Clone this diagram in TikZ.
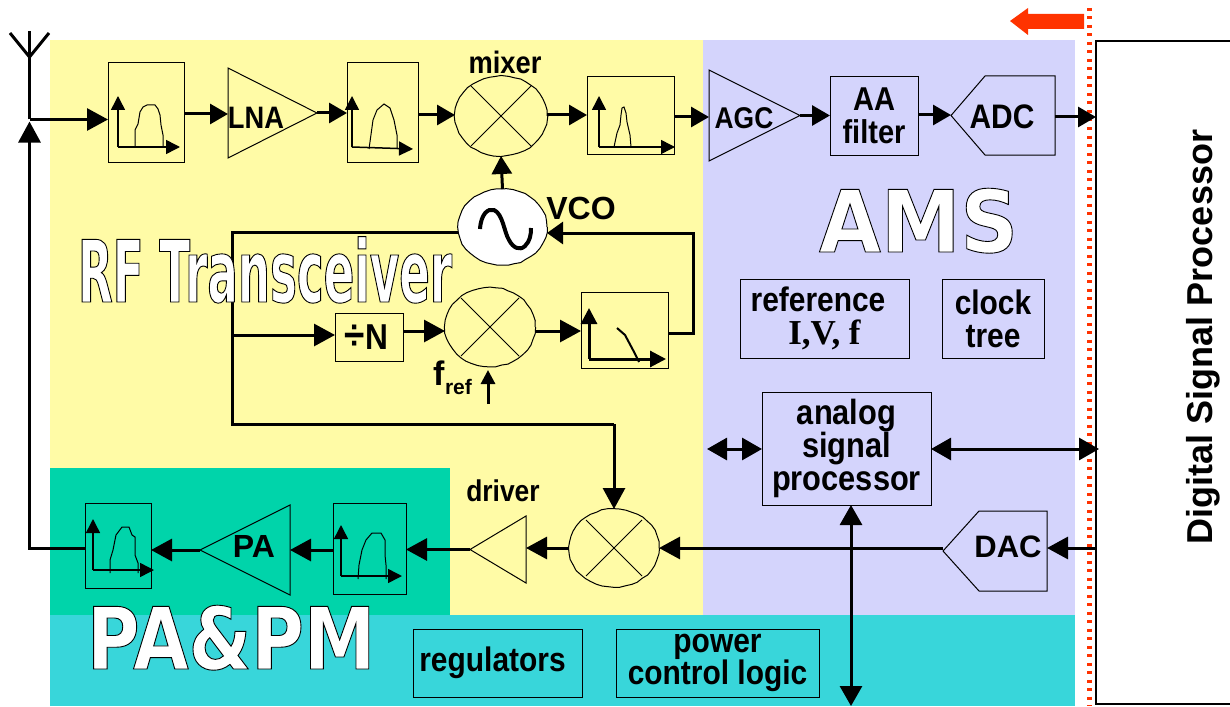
\documentclass[tikz,border=0pt]{standalone}
\usepackage{fontspec}
\usetikzlibrary{arrows.meta,shapes.geometric,decorations.pathmorphing}
\setmainfont{Liberation Sans}
\newfontfamily\lab[FakeStretch=0.88]{Liberation Sans Bold}
\newfontfamily\plainbold{Liberation Sans Bold}
\newfontfamily\serifbold{Liberation Serif Bold}
\newfontfamily\rffont[FakeStretch=0.525]{DejaVu Sans Bold}
\newfontfamily\amsfont[FakeStretch=0.93]{DejaVu Sans Bold}
\newfontfamily\pafont[FakeStretch=0.835]{DejaVu Sans Bold}
\newcommand\fsz[2]{\fontsize{#1}{#2}\selectfont}
\newcommand\outl[1]{\special{pdf:code 0 0 0 RG 0.9 w 2 Tr}#1\special{pdf:code 0 Tr}}
\definecolor{ylw}{HTML}{FFFBA6}
\definecolor{lav}{HTML}{D4D4FC}
\definecolor{grn}{HTML}{00D4AA}
\definecolor{cyn}{HTML}{38D6DA}
\definecolor{redl}{HTML}{FF3300}
\tikzset{
  x=1pt,y=-1pt,
  blk/.style={draw=black,line width=1pt,inner sep=0pt,outer sep=0pt,align=center},
  ghost/.style={inner sep=0pt,outer sep=0pt},
  lbl/.style={inner sep=0pt,outer sep=0pt,align=center,font=\lab\fsz{34}{33}},
  wire/.style={line width=3pt,draw=black},
  big/.style={wire,-{Triangle[length=21pt,width=22pt]}},
  sml/.style={wire,-{Triangle[length=18pt,width=20pt]}},
  both/.style={wire,{Triangle[length=20pt,width=22pt]}-{Triangle[length=20pt,width=22pt]}},
  thinl/.style={line width=1pt,draw=black},
  axs/.style={line width=1.5pt,-{Triangle[length=14pt,width=14pt]}},
  spec/.style={line width=1pt,draw=black},
  rough/.style={decorate,decoration={random steps,segment length=6pt,amplitude=.5pt}},
  round shape/.style={ellipse,draw=black,line width=1pt,inner sep=0pt,outer sep=0pt},
}
\newcommand\bx[7]{%
  \pgfmathsetmacro\cxx{(#2+#4)/2}\pgfmathsetmacro\cyy{(#3+#5)/2}%
  \pgfmathsetmacro\wdd{#4-#2}\pgfmathsetmacro\htt{#5-#3}%
  \node[#6,minimum width=\wdd pt,minimum height=\htt pt] (#1) at (\cxx,\cyy) {#7};}
\newcommand\crossm[2]{%
  \draw[thinl] ([xshift=-#2pt,yshift=#2pt]#1.center) -- ([xshift=#2pt,yshift=-#2pt]#1.center);
  \draw[thinl] ([xshift=#2pt,yshift=#2pt]#1.center) -- ([xshift=-#2pt,yshift=-#2pt]#1.center);}
\begin{document}
\begin{tikzpicture}
\useasboundingbox (0,0) rectangle (1230,706);
% regions
\fill[ylw] (50,40) rectangle (703,615);
\fill[lav] (703,40) rectangle (1075,615);
\fill[grn] (50,468) rectangle (450,615);
\fill[cyn] (50,615) rectangle (1075,706);
% DSP
\bx{dsp}{1096}{41}{1240}{704}{blk,fill=white,line width=1.2pt}{}
\node[rotate=90,inner sep=0pt,font=\plainbold\fsz{36}{38}] (dsptxt) at (1203,337) {Digital Signal Processor};
% boundary
\coordinate (bt) at (1089,8); \coordinate (bb) at (1089,706);
\draw[redl,line width=5pt,dash pattern=on 3pt off 5.5pt] (bt) -- (bb);
\fill[redl] (1084,14) -- (1028,14) -- (1028,8) -- (1010,21) -- (1028,35) -- (1028,29) -- (1084,29) -- cycle;
% boxes
\bx{f1}{108}{63}{184}{162}{blk}{}
\bx{lna}{228}{68}{317}{158}{ghost}{}
\bx{f2}{347}{63}{418}{162}{blk}{}
\node[round shape,rough,minimum width=92pt,minimum height=80pt] (mix) at (501,116) {};
\bx{f3}{587}{77}{674}{154}{blk}{}
\bx{agc}{709}{70}{800}{161}{ghost}{}
\bx{aa}{830}{77}{918}{155}{blk,font=\lab\fsz{33}{34}}{AA\\[-1pt]filter}
\bx{adc}{951}{76}{1055}{155}{ghost}{}
\node[round shape,rough,fill=white,minimum width=89pt,minimum height=76pt] (vco) at (502.5,227) {};
\bx{divn}{335}{313}{403}{361}{blk,font=\lab\fsz{36}{36}}{{\fsz{42}{36}÷}N\hspace*{5pt}}
\node[round shape,rough,minimum width=90pt,minimum height=79pt] (mix2) at (490,327) {};
\bx{f4}{581}{292}{668}{368}{blk}{}
\bx{ref}{740}{279}{909}{358}{blk,font=\lab\fsz{34}{33}}{reference\hspace*{13pt}\\{\serifbold\fsz{35}{33}I,V, f}}
\bx{clk}{942}{279}{1044}{358}{blk,font=\lab\fsz{34}{33}}{clock\\tree}
\bx{asp}{762}{392}{931}{505}{blk,font=\lab\fsz{35}{33}}{analog\\signal\\processor}
\bx{dac}{943}{511}{1047}{591}{ghost}{}
\node[round shape,rough,minimum width=90pt,minimum height=78pt] (mix3) at (614,548) {};
\bx{drv}{470}{516}{526}{583}{ghost}{}
\bx{f5}{333}{503}{406}{594}{blk}{}
\bx{pa}{200}{505}{290}{595}{ghost}{}
\bx{f6}{85}{503}{151}{588}{blk}{}
\bx{reg}{413}{629}{582}{697}{blk,font=\lab\fsz{34}{33}}{regulators\hspace*{10pt}}
\bx{pcl}{616}{629}{819}{697}{blk,font=\lab\fsz{34}{31}}{power\\control logic}
% amp outlines
\draw[thinl] (lna.north west) -- (lna.south west) -- (lna.east) -- cycle;
\draw[thinl] (agc.north west) -- (agc.south west) -- (agc.east) -- cycle;
\draw[thinl] (adc.west) -- (985,76) -- (adc.north east) -- (adc.south east) -- (985,155) -- cycle;
\draw[thinl] (dac.west) -- (979,511) -- (dac.north east) -- (dac.south east) -- (979,591) -- cycle;
\draw[thinl] (drv.west) -- (drv.north east) -- (drv.south east) -- cycle;
\draw[thinl] (pa.west) -- (pa.north east) -- (pa.south east) -- cycle;
% mixer crosses
\crossm{mix}{30}
\crossm{mix2}{29}
\crossm{mix3}{28}
% sine
\draw[line width=4pt,line join=round] (480,229) .. controls (481,214) and (488,208) .. (494,210) .. controls (503,214) and (504,232) .. (509,240) .. controls (513,248) and (520,251) .. (525,246) .. controls (530,241) and (531,235) .. (531,228);
% spectra
\draw[axs] (118,147) -- (118,96);
\draw[axs] (118,147) -- (180,147);
\draw[spec] (135,147) -- (135,130) -- (138,124) -- (140,112) -- (143,107) -- (147,105) -- (155,105) -- (158,109) -- (160,115) -- (161,125) -- (163,135) -- (163,147);
\draw[axs] (352,147) -- (352,96);
\draw[axs] (352,147) -- (413,149);
\draw[spec] (369,149) -- (373,120) -- (377,110) -- (384,104) -- (390,108) -- (394,120) -- (397,135) -- (397,149);
\draw[axs] (599,147) -- (599,96);
\draw[axs] (599,147) -- (675,147);
\draw[spec] (614,147) -- (617,133) -- (620,125) -- (621,115) -- (622,108) -- (624,107) -- (626,113) -- (627,122) -- (630,135) -- (631,147);
\draw[line width=3pt,-{Triangle[length=16pt,width=16pt]}] (589,359) -- (589,308);
\draw[line width=3pt,-{Triangle[length=16pt,width=16pt]}] (589,359) -- (666,359);
\draw[line width=2pt] (617,328) -- (625,335) -- (633,350) -- (639,362);
\draw[axs] (341,576) -- (341,525);
\draw[axs] (341,576) -- (402,576);
\draw[spec] (358,579) -- (359,565) -- (362,550) -- (366,540) -- (372,533) -- (381,533) -- (385,540) -- (385,555) -- (386,565) -- (386,579);
\draw[axs] (93,570) -- (93,519);
\draw[axs] (93,570) -- (154,570);
\draw[spec] (110,573) -- (110,560) -- (113,550) -- (116,535) -- (122,527) -- (129,527) -- (132,535) -- (135,537) -- (135,555) -- (138,563) -- (138,573);
% antenna
\coordinate (ant) at (29.5,119.5);
\coordinate (anttop) at (29.5,31);
\coordinate (antv) at (29.5,57);
\coordinate (armL) at (10,33);
\coordinate (armR) at (49,33);
\draw[wire] (ant) -- (anttop);
\draw[wire] (armL) -- (antv) -- (armR);
% connectors, receive
\draw[big] (ant) -- (f1.west |- ant);
\draw[sml] (f1.east |- 0,114) -- (lna.west |- 0,114);
\draw[sml] (lna.east) -- (f2.west |- lna.east);
\draw[sml] (f2.east |- 0,115) -- (mix.west |- 0,115);
\draw[sml] (mix.east |- 0,115) -- (f3.west |- 0,115);
\draw[sml] (f3.east |- 0,117) -- (agc.west |- 0,117);
\draw[sml] (agc.east) -- (aa.west |- agc.east);
\draw[sml] (aa.east |- 0,115) -- (adc.west |- 0,115);
\draw[sml] (adc.east |- 0,117) -- (dsp.west |- 0,117);
\draw[sml] (vco.north) -- (mix.south);
% PLL
\draw[wire] (vco.west |- 0,232) -- (232,232) coordinate (c1) -- (232,424) coordinate (c2) -- (mix3.north |- c2) coordinate (c3);
\draw[big] (c3) -- (mix3.north);
\coordinate (tapn) at (232,335);
\draw[big] (tapn) -- (divn.west |- tapn);
\draw[big] (divn.east |- 0,331) -- (mix2.west |- 0,331);
\draw[big] (mix2.east |- 0,331) -- (f4.west |- 0,331);
\draw[wire,-{Triangle[length=16pt,width=22pt]}] (f4.east |- 0,333) -- (693,333) -- (693,233) -- (vco.east |- 0,233);
\coordinate (frefs) at (488,404);
\coordinate (frefe) at (488,370);
\draw[wire,-{Triangle[length=14pt,width=14pt]}] (frefs) -- (frefe);
% transmit
\draw[big] (dsp.west |- 0,548) -- (dac.east |- 0,548);
\draw[big] (dac.west |- 0,548) -- (mix3.east |- 0,548);
\draw[big] (mix3.west) -- (drv.east |- mix3.west);
\draw[big] (drv.west) -- (f5.east |- drv.west);
\draw[big] (f5.west |- pa.west) -- (pa.east);
\draw[big] (pa.west) -- (f6.east |- pa.west);
\draw[big] (f6.west |- 0,548) -- (29.5,548) -- ([yshift=-2pt]ant);
% ASP links
\coordinate (aspl) at (707,449);
\coordinate (dspl) at (1099,449);
\coordinate (aspb) at (851,706);
\draw[both] (aspl) -- (asp.west |- aspl);
\draw[both] (asp.east |- dspl) -- (dspl);
\draw[both] (asp.south -| aspb) -- (aspb);
% labels
\node[lbl,font=\lab\fsz{31}{33}] (tlna) at (256,118) {LNA};
\node[lbl,font=\lab\fsz{31}{33}] (tmix) at (505,62) {mixer};
\node[lbl,font=\lab\fsz{30}{33}] (tagc) at (744,118) {AGC};
\node[lbl,font=\lab\fsz{34}{33}] (tadc) at (1002,117) {ADC};
\node[lbl,font=\plainbold\fsz{32}{33}] (tvco) at (581,208) {VCO};
\node[lbl,font=\plainbold\fsz{31}{33}] (tdac) at (1008,547) {DAC};
\node[lbl,font=\plainbold\fsz{32}{33}] (tpa) at (254,546) {PA};
\node[lbl,font=\lab\fsz{30}{33}] (tdrv) at (503,491) {driver};
\node[lbl,anchor=base west,font=\plainbold\fsz{34}{34}] (tf) at (433,385) {f};
\node[lbl,anchor=base west,font=\plainbold\fsz{21}{22}] (tr) at (445,394) {ref};
% white outlined titles
\node[ghost,anchor=base west,text=white,font=\rffont\fsz{86}{87}] (trf) at (78,302) {\outl{RF Transceiver}};
\node[ghost,anchor=base west,text=white,font=\amsfont\fsz{86}{88}] (tams) at (819,252) {\outl{AMS}};
\node[ghost,anchor=base west,text=white,font=\pafont\fsz{86}{88}] (tpm) at (87,669) {\outl{PA\&PM}};
\end{tikzpicture}
\end{document}
